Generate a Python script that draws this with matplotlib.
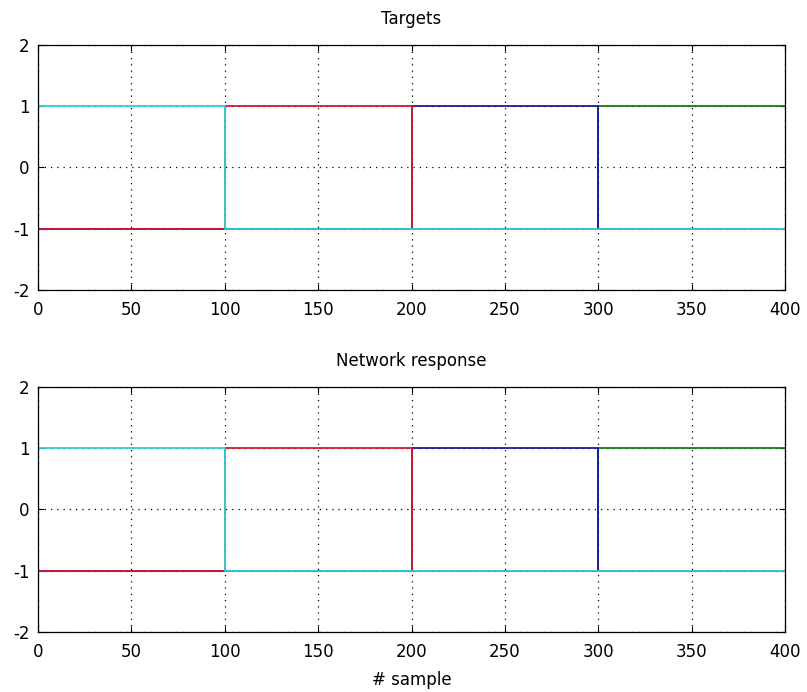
import numpy as np
import matplotlib
matplotlib.use('Agg')
import matplotlib.pyplot as plt

# class boundaries (sample index) and the level of each output per segment
bounds = [0, 100, 200, 300, 400]
cyan_t = [1, -1, -1, -1]
red_t = [-1, 1, -1, -1]
blue_t = [-1, -1, 1, -1]
green_t = [-1, -1, -1, 1]

# network response (same as targets after training)
cyan_r = [1, -1, -1, -1]
red_r = [-1, 1, -1, -1]
blue_r = [-1, -1, 1, -1]
green_r = [-1, -1, -1, 1]

xticks = [0, 50, 100, 150, 200, 250, 300, 350, 400]
yticks = [-2, -1, 0, 1, 2]

plt.rcParams['font.family'] = ['DejaVu Sans']
plt.rcParams['font.size'] = 12
plt.rcParams['axes.unicode_minus'] = False

fig = plt.figure(figsize=(8.07, 6.92), dpi=100)
ax1 = fig.add_axes([0.047, 0.581, 0.926, 0.354])
ax2 = fig.add_axes([0.047, 0.087, 0.926, 0.354])


def draw(ax, series, title):
    # drawing order decides which colour sits on top
    cols = {'green': '#1a7a1a', 'blue': '#1a1aa0', 'red': '#d01a30', 'cyan': '#30d0d0'}
    for name in ['green', 'blue', 'red', 'cyan']:
        vals = series[name]
        ax.plot(bounds, vals + [vals[-1]], drawstyle='steps-post',
                color=cols[name], lw=1.3)
    ax.set_xlim(0, 400)
    ax.set_ylim(-2, 2)
    ax.set_xticks(xticks)
    ax.set_yticks(yticks)
    ax.grid(True, color='black', linestyle=(0, (1, 4)), linewidth=0.9)
    ax.tick_params(direction='in', length=4, width=0.8, top=True, right=True,
                   labeltop=False, labelright=False)
    ax.tick_params(axis='x', pad=8)
    ax.tick_params(axis='y', pad=6)
    for s in ax.spines.values():
        s.set_linewidth(0.9)
    ax.set_title(title, fontsize=12, pad=15)


draw(ax1, {'cyan': cyan_t, 'red': red_t, 'blue': blue_t, 'green': green_t}, 'Targets')
draw(ax2, {'cyan': cyan_r, 'red': red_r, 'blue': blue_r, 'green': green_r}, 'Network response')
ax2.set_xlabel('# sample', labelpad=7)

fig.savefig('out.png', dpi=100)
